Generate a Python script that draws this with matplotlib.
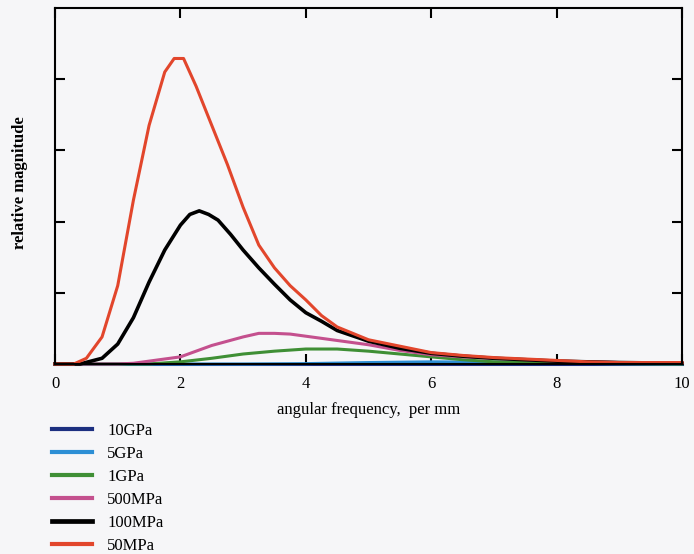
import matplotlib
matplotlib.use("Agg")
import matplotlib.pyplot as plt
from matplotlib.lines import Line2D

plt.rcParams['font.family'] = ['Liberation Serif', 'DejaVu Serif']

# series (x: angular frequency per mm, y: relative magnitude)
labels = ['10GPa', '5GPa', '1GPa', '500MPa', '100MPa', '50MPa']
colors = ['#1c2f80', '#2d8fd5', '#3f8f35', '#c4508e', '#000000', '#e2462c']
widths = [2.2, 2.2, 2.2, 2.2, 2.6, 2.2]

x_10gpa = [0, 10]
y_10gpa = [0, 0]

x_5gpa = [0, 3, 4, 5, 6, 7, 8, 10]
y_5gpa = [0, 0, 0.005, 0.02, 0.03, 0.025, 0.01, 0]

x_1gpa = [0, 1.5, 2.0, 2.5, 3.0, 3.5, 4.0, 4.5, 5.0, 5.5, 6.0, 6.5, 7.0, 8.0, 10]
y_1gpa = [0, 0, 0.03, 0.08, 0.14, 0.18, 0.21, 0.21, 0.18, 0.14, 0.10, 0.06, 0.03, 0.01, 0]

x_500mpa = [0, 1.0, 1.25, 1.5, 2.0, 2.5, 3.0, 3.25, 3.5, 3.75, 4.0, 4.5, 5.0, 5.5,
            6.0, 6.5, 7.0, 8.0, 9.0, 10]
y_500mpa = [0, 0, 0.01, 0.04, 0.10, 0.26, 0.38, 0.43, 0.43, 0.42, 0.39, 0.33, 0.27,
            0.19, 0.13, 0.10, 0.08, 0.04, 0.02, 0.01]

x_100mpa = [0, 0.4, 0.75, 1.0, 1.25, 1.5, 1.75, 2.0, 2.15, 2.3, 2.45, 2.6, 2.8, 3.0,
            3.25, 3.5, 3.75, 4.0, 4.25, 4.5, 5.0, 5.5, 6.0, 6.5, 7.0, 7.5, 8.0, 9.0, 10]
y_100mpa = [0, 0, 0.08, 0.28, 0.65, 1.15, 1.6, 1.95, 2.1, 2.15, 2.1, 2.02, 1.82, 1.6,
            1.35, 1.12, 0.9, 0.72, 0.6, 0.47, 0.32, 0.22, 0.15, 0.11, 0.08, 0.06,
            0.04, 0.02, 0.01]

x_50mpa = [0, 0.3, 0.5, 0.75, 1.0, 1.25, 1.5, 1.75, 1.9, 2.05, 2.25, 2.5, 2.75, 3.0,
           3.25, 3.5, 3.75, 4.0, 4.25, 4.5, 5.0, 5.5, 6.0, 6.5, 7.0, 7.5, 8.0, 8.5,
           9.0, 10]
y_50mpa = [0, 0, 0.08, 0.38, 1.1, 2.3, 3.35, 4.1, 4.29, 4.29, 3.9, 3.35, 2.8, 2.2,
           1.67, 1.35, 1.1, 0.9, 0.68, 0.52, 0.34, 0.25, 0.16, 0.12, 0.09, 0.07,
           0.05, 0.03, 0.02, 0.02]

xs = [x_10gpa, x_5gpa, x_1gpa, x_500mpa, x_100mpa, x_50mpa]
ys = [y_10gpa, y_5gpa, y_1gpa, y_500mpa, y_100mpa, y_50mpa]

bg = '#f6f6f8'
fig = plt.figure(figsize=(6.94, 5.54), dpi=100, facecolor=bg)
ax = fig.add_axes([0.0793, 0.343, 0.9034, 0.6427], facecolor=bg)

for x, y, c, w in zip(xs, ys, colors, widths):
    ax.plot(x, y, color=c, lw=w, clip_on=False)

ax.set_xlim(0, 10)
ax.set_ylim(0, 5)
ax.set_xticks([0, 2, 4, 6, 8, 10])
ax.set_yticks([1, 2, 3, 4])
ax.set_yticklabels([])
ax.tick_params(direction='in', length=7, width=1.5, top=True, right=True,
               labelsize=12, pad=9)
for s in ax.spines.values():
    s.set_linewidth(1.5)

ax.set_xlabel('angular frequency,  per mm', fontsize=12, labelpad=7)
fig.text(0.029, 0.670, 'relative magnitude', rotation=90, fontsize=12,
         fontweight='bold', ha='center', va='center')

handles = [Line2D([], [], color=c, lw=w + 0.8) for c, w in zip(colors, widths)]
fig.legend(handles, labels, loc='upper left', bbox_to_anchor=(0.075, 0.237),
           frameon=False, fontsize=12, handlelength=2.4, handletextpad=0.9,
           labelspacing=0.42, borderaxespad=0, borderpad=0)

fig.savefig('out.png', dpi=100, facecolor=bg)
